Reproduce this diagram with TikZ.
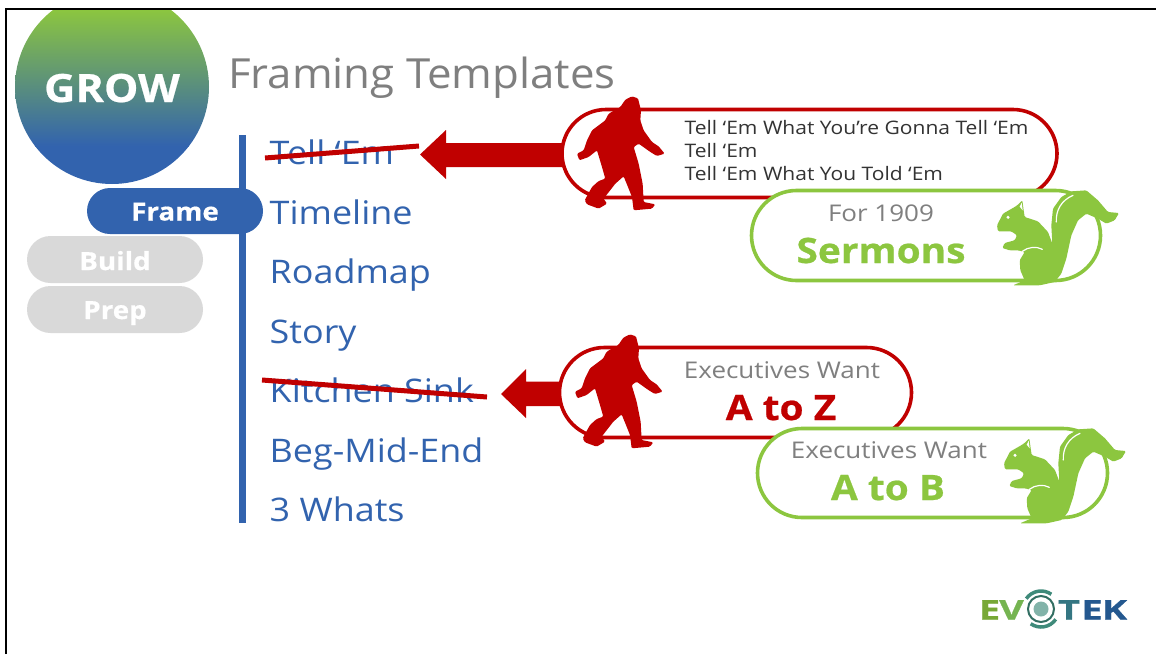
\documentclass[tikz,border=0pt]{standalone}
\usepackage{fontspec}
\usetikzlibrary{shapes.misc}
\setmainfont{Open Sans}
\newfontfamily\wideA[FakeStretch=1.13]{Open Sans}
\newfontfamily\wideI[FakeStretch=1.105]{Open Sans}
\newfontfamily\wideT[FakeStretch=1.055]{Open Sans}
\newfontfamily\wideB[FakeStretch=1.11,BoldFeatures={FakeBold=0.6}]{Open Sans}
\newfontfamily\wideL[FakeStretch=1.4,BoldFeatures={FakeBold=1}]{Open Sans}
\newcommand{\fsz}[1]{\fontsize{#1}{#1}\selectfont}
\definecolor{cblue}{HTML}{3263AE}
\definecolor{cgreen}{HTML}{8CC63F}
\definecolor{cred}{HTML}{C00000}
\definecolor{cgrey}{HTML}{D9D9D9}
\definecolor{ctext}{HTML}{7F7F7F}
\definecolor{cteal}{HTML}{3F8A7A}
\definecolor{clogob}{HTML}{24588F}
\tikzset{
  pill/.style={rounded rectangle,rounded rectangle arc length=180,inner sep=0pt,outer sep=0pt},
  outlinepill/.style={pill,fill=white,line width=3.6pt},
  navlabel/.style={anchor=base,inner sep=0pt,text=white,font=\wideB\bfseries\fsz{25}},
  listitem/.style={anchor=base west,inner sep=0pt,text=cblue,font=\wideI\fsz{32.5}},
  subtext/.style={anchor=base,inner sep=0pt,text=ctext,font=\wideA\fsz{23}},
  bigtext/.style={anchor=base,inner sep=0pt,font=\wideB\bfseries\fsz{35}},
  bodytext/.style={anchor=base west,inner sep=0pt,text=black!80,font=\wideA\fsz{18.6}},
  strike/.style={draw=cred,line width=5pt},
  logotext/.style={anchor=base,inner sep=0pt,font=\wideL\bfseries\fsz{27}}
}
\newcommand{\bigfoot}[2]{%
\begin{scope}[shift={(#1,#2)},x=0.3333pt,y=-0.3333pt]
\fill[cred,rounded corners=1.2pt] (420,28) -- (438,34) -- (447,70) -- (445,100) -- (455,130) -- (480,165) -- (500,178) -- (518,200) -- (495,207) -- (475,195) -- (440,170) -- (425,180) -- (440,230) -- (452,290) -- (455,345) -- (490,352) -- (480,365) -- (425,370) -- (420,330) -- (395,268) -- (370,290) -- (335,335) -- (345,350) -- (320,365) -- (285,352) -- (278,340) -- (300,300) -- (320,282) -- (340,275) -- (330,240) -- (315,190) -- (290,210) -- (262,220) -- (255,200) -- (275,190) -- (285,160) -- (300,130) -- (340,100) -- (350,80) -- (385,60) -- (400,38) -- cycle;
\end{scope}}
\newcommand{\squirrel}[2]{%
\begin{scope}[shift={(#1,#2)},x=0.3333pt,y=-0.3333pt]
\fill[cgreen,rounded corners=1.2pt] (118,55) -- (122,85) -- (125,105) -- (165,118) -- (195,150) -- (208,185) -- (205,130) -- (210,80) -- (235,45) -- (265,28) -- (310,25) -- (345,55) -- (375,90) -- (408,93) -- (395,115) -- (370,125) -- (345,110) -- (310,95) -- (285,115) -- (265,160) -- (250,230) -- (235,275) -- (215,300) -- (170,310) -- (90,310) -- (125,295) -- (112,265) -- (110,235) -- (125,210) -- (105,205) -- (80,205) -- (58,198) -- (65,183) -- (95,175) -- (102,160) -- (85,148) -- (45,148) -- (42,130) -- (60,95) -- (95,75) -- (105,68) -- cycle;
\draw[white,line width=1.2pt,line cap=round] (220,120) .. controls (218,85) and (235,55) .. (270,40);
\draw[white,line width=1.2pt,line cap=round] (118,208) .. controls (135,195) and (160,192) .. (178,202);
\fill[white] (75,106) circle (5);
\fill[white] (116,62) -- (119,85) -- (110,74) -- cycle;
\end{scope}}
\begin{document}
\begin{tikzpicture}[x=1pt,y=-1pt]
\useasboundingbox (0,0) rectangle (1156,654);
\coordinate (bl) at (6,654);
\coordinate (tl) at (6,9);
\coordinate (tr) at (1156,9);
\begin{scope}
\clip (0,9) rectangle (1156,654);
\clip (112,87) circle (97);
\shade[top color=cgreen,bottom color=cblue] (0,9) rectangle (230,146);
\fill[cblue] (0,145.5) rectangle (230,190);
\end{scope}
\draw[black,line width=2pt] (bl) -- (tl) -- (tr);
\node[anchor=base,inner sep=0pt,text=white,font=\wideB\bfseries\fsz{39}] (grow) at (112,102) {GROW};
\node[anchor=base west,inner sep=0pt,text=ctext,font=\wideT\fsz{41.5}] (title) at (228,88) {Framing Templates};
\fill[cblue] (239,135) rectangle (246,523);
\node[pill,fill=cblue,minimum width=176pt,minimum height=46pt] (frame) at (175,211) {};
\node[pill,fill=cgrey,minimum width=176pt,minimum height=47pt] (build) at (115,259.5) {};
\node[pill,fill=cgrey,minimum width=176pt,minimum height=47pt] (prep) at (115,309.5) {};
\node[navlabel] (lframe) at (175,220.5) {Frame};
\node[navlabel] (lbuild) at (115,270) {Build};
\node[navlabel] (lprep) at (115,319) {Prep};
\node[listitem] (i1) at (269.5,164) {Tell ‘Em};
\node[listitem] (i2) at (269.5,224) {Timeline};
\node[listitem] (i3) at (269.5,283) {Roadmap};
\node[listitem] (i4) at (269.5,343) {Story};
\node[listitem] (i5) at (269.5,402) {Kitchen Sink};
\node[listitem] (i6) at (269.5,462) {Beg-Mid-End};
\node[listitem] (i7) at (269.5,521) {3 Whats};
\draw[strike] (265,158) -- (419,146);
\draw[strike] (262,380) -- (487,397);
\fill[cred] (420,154.5) -- (446,130) -- (446,143) -- (563,143) -- (563,167) -- (446,167) -- (446,179) -- cycle;
\fill[cred] (501,394) -- (526,369) -- (526,381.5) -- (562,381.5) -- (562,406) -- (526,406) -- (526,418) -- cycle;
\node[outlinepill,draw=cred,minimum width=495pt,minimum height=88pt] (redA) at (809.5,153.5) {};
\bigfoot{492}{87}
\node[bodytext] (t1) at (684.5,134.5) {Tell ‘Em What You’re Gonna Tell ‘Em};
\node[bodytext] (t2) at (684.5,157.5) {Tell ‘Em};
\node[bodytext] (t3) at (684.5,180.5) {Tell ‘Em What You Told ‘Em};
\node[outlinepill,draw=cgreen,minimum width=349pt,minimum height=90pt] (greenA) at (926,235.5) {};
\squirrel{983}{182}
\node[subtext] (s1) at (881,221) {For 1909};
\node[bigtext,text=cgreen] (s2) at (881,263) {Sermons};
\node[outlinepill,draw=cred,minimum width=352pt,minimum height=90pt] (redB) at (735.5,392.5) {};
\bigfoot{490}{325}
\node[subtext] (e1) at (782,378) {Executives Want};
\node[bigtext,text=cred] (e2) at (781,420) {A to Z};
\node[outlinepill,draw=cgreen,minimum width=350pt,minimum height=89pt] (greenB) at (932.5,473) {};
\squirrel{990}{420}
\node[subtext] (e3) at (889,458) {Executives Want};
\node[bigtext,text=cgreen] (e4) at (888,500) {A to B};
\node[logotext,text=cgreen!85!black] (lE) at (989.5,619.5) {E};
\node[logotext,text=cgreen!70!cteal] (lV) at (1011.5,619.5) {V};
\draw[cteal,line width=3.5pt] (1041,609) ++(35:18) arc (35:125:18);
\draw[cteal,line width=3.5pt] (1041,609) ++(215:18) arc (215:305:18);
\draw[cteal!80!black,line width=2pt] (1041,609) circle (13);
\fill[cteal!65] (1041,609) circle (7.5);
\node[logotext,text=cteal!60!clogob] (lT) at (1069,619.5) {T};
\node[logotext,text=clogob] (lE2) at (1092,619.5) {E};
\node[logotext,text=clogob] (lK) at (1114.5,619.5) {K};
\end{tikzpicture}
\end{document}
